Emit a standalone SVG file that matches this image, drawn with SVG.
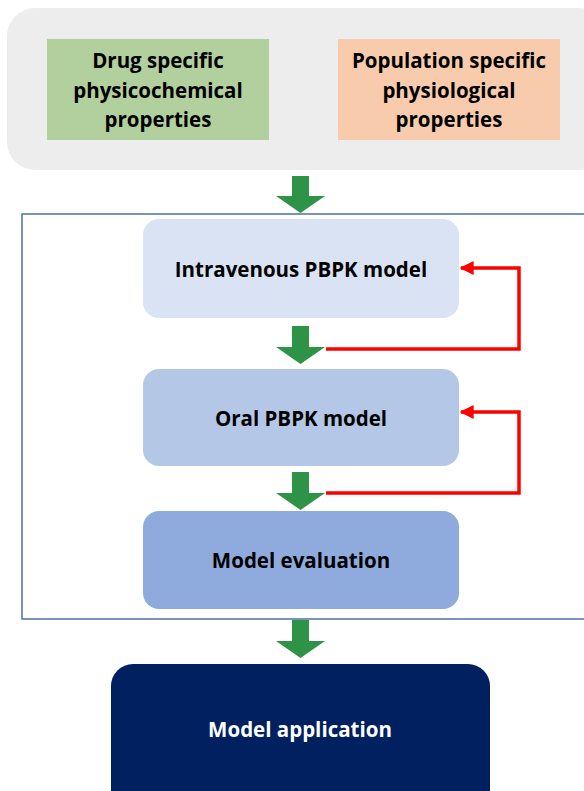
<svg xmlns="http://www.w3.org/2000/svg" width="584" height="791" viewBox="0 0 584 791">
  <style>
    .lbl { font-family: "Open Sans", "Noto Sans", "Liberation Sans", sans-serif; font-weight: 700; font-size: 20.5px; fill: #000000; text-anchor: middle; }
    .lbl-w { fill: #ffffff; }
    .flow { fill: #2e9346; }
    .loop { fill: none; stroke: #ff0000; stroke-width: 3.5; stroke-linejoin: miter; }
  </style>
  <defs>
    <marker id="redHead" viewBox="0 0 10 10" refX="9" refY="5" markerWidth="4" markerHeight="4" markerUnits="strokeWidth" orient="auto">
      <path d="M0,0 L10,5 L0,10 z" fill="#ff0000"/>
    </marker>
  </defs>

  <rect width="584" height="791" fill="#ffffff"/>

  <!-- input panel -->
  <g id="inputs">
    <rect x="7" y="8" width="600" height="162" rx="28" fill="#ededed"/>
  </g>
  <g id="drug">
    <rect x="47" y="39" width="222" height="101" fill="#b2cf9e"/>
    <text class="lbl" x="158" y="68">Drug specific</text>
    <text class="lbl" x="158" y="98">physicochemical</text>
    <text class="lbl" x="158" y="127">properties</text>
  </g>
  <g id="population">
    <rect x="338" y="39" width="222" height="101" fill="#f8cbad"/>
    <text class="lbl" x="449" y="68">Population specific</text>
    <text class="lbl" x="449" y="98">physiological</text>
    <text class="lbl" x="449" y="127">properties</text>
  </g>

  <!-- model building frame -->
  <g id="frame">
    <rect x="22" y="214" width="600" height="405" fill="none" stroke="#44649f" stroke-width="1.4"/>
  </g>
  <g id="iv">
    <rect x="143" y="219" width="316" height="99" rx="16" fill="#dae3f3"/>
    <text class="lbl" x="301" y="277">Intravenous PBPK model</text>
  </g>
  <g id="oral">
    <rect x="143" y="369" width="316" height="97" rx="16" fill="#b4c7e7"/>
    <text class="lbl" x="301" y="426">Oral PBPK model</text>
  </g>
  <g id="evaluation">
    <rect x="143" y="511" width="316" height="98" rx="16" fill="#8faadc"/>
    <text class="lbl" x="301" y="568">Model evaluation</text>
  </g>
  <g id="application">
    <rect x="111" y="664" width="379" height="150" rx="22" fill="#002060"/>
    <text class="lbl lbl-w" x="300" y="737">Model application</text>
  </g>

  <!-- connectors -->
  <g id="connectors">
    <polygon class="flow" points="292,176 309,176 309,196 325,196 300.5,213 276,196 292,196"/>
    <polygon class="flow" points="292,326 309,326 309,347 325,347 300.5,364 276,347 292,347"/>
    <polygon class="flow" points="292,472 309,472 309,493 325,493 300.5,510 276,493 292,493"/>
    <polygon class="flow" points="292,620 309,620 309,641 325,641 300.5,658 276,641 292,641"/>
    <path class="loop" d="M326,349 H519 V268 H461" marker-end="url(#redHead)"/>
    <path class="loop" d="M326,493 H519 V412 H461" marker-end="url(#redHead)"/>
  </g>
</svg>
